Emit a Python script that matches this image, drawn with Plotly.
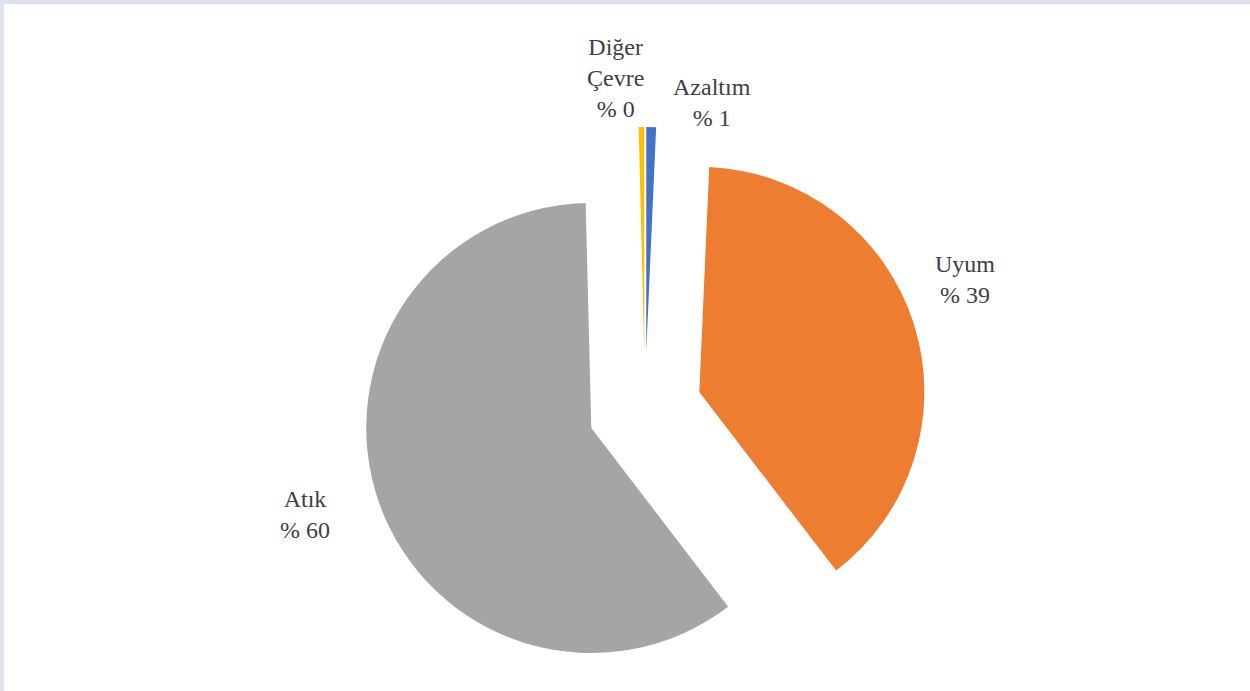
import plotly.graph_objects as go

# slices, clockwise from 12 o'clock
labels = ["Azaltım", "Uyum", "Atık", "Diğer Çevre"]
values = [0.7, 38.9, 60.0, 0.4]
shown_pct = ["% 1", "% 39", "% 60", "% 0"]
colors = ["#4472C4", "#ED7D31", "#A5A5A5", "#FFC000"]

# where the data labels sit (paper coords), same order as labels
label_pos = [(0.570, 0.852), (0.772, 0.595), (0.244, 0.255), (0.492, 0.887)]

fig = go.Figure(go.Pie(
    labels=labels,
    values=values,
    textinfo="none",
    automargin=False,
    sort=False,
    direction="clockwise",
    rotation=0,
    pull=0.253,
    marker=dict(colors=colors, line=dict(width=0)),
    domain=dict(x=[0.266, 0.766], y=[0, 0.8162]),
    showlegend=False,
    hoverinfo="label+percent",
))

for lab, pct, (px, py) in zip(labels, shown_pct, label_pos):
    fig.add_annotation(
        x=px, y=py, xref="paper", yref="paper",
        xanchor="center", yanchor="middle",
        text=lab.replace(" ", "<br>") + "<br>" + pct,
        showarrow=False, align="center",
        font=dict(family="Liberation Serif", size=24, color="#404040"),
    )

# light frame on the top and left edges
fig.add_shape(type="rect", xref="paper", yref="paper", x0=0, x1=1, y0=0.994, y1=1,
              fillcolor="#DEE1EE", line=dict(width=0), layer="below")
fig.add_shape(type="rect", xref="paper", yref="paper", x0=0, x1=0.0032, y0=0, y1=1,
              fillcolor="#DEE1EE", line=dict(width=0), layer="below")

fig.update_layout(
    width=1250, height=691,
    autosize=False,
    margin=dict(l=0, r=0, t=0, b=0, pad=0, autoexpand=False),
    paper_bgcolor="white",
    plot_bgcolor="white",
)

fig.write_html("out.html", config={"displayModeBar": False},
               post_script="document.body.style.margin='0';document.body.style.overflow='hidden';")
